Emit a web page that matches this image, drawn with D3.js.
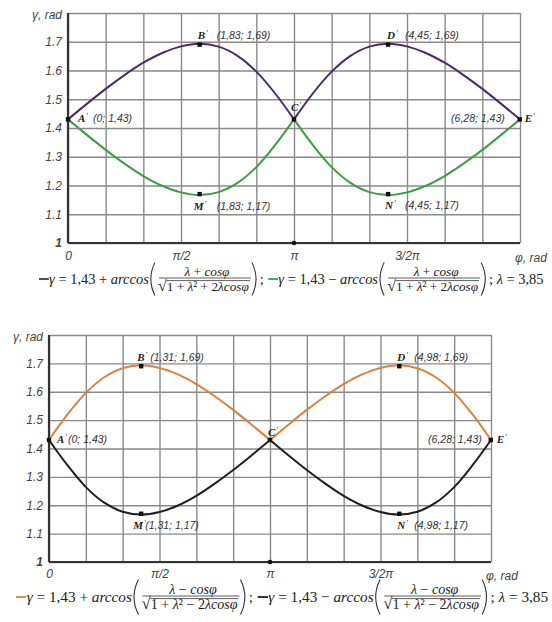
<!DOCTYPE html>
<html>
<head>
<meta charset="utf-8">
<script src="https://cdn.jsdelivr.net/npm/d3@7"></script>
<style>
  html, body { margin: 0; padding: 0; background: #ffffff; }
  svg { display: block; }
  text { white-space: pre; }
</style>
</head>
<body>
<svg id="chart" width="552" height="622"></svg>
<script>
// ---- data --------------------------------------------------------------
// sampling angles φ (rad), step π/12
const PHI = [0, 0.262, 0.524, 0.785, 1.047, 1.309, 1.571, 1.833, 2.094, 2.356, 2.618, 2.880, 3.142,
             3.403, 3.665, 3.927, 4.189, 4.451, 4.712, 4.974, 5.236, 5.498, 5.760, 6.021, 6.283];

// upper chart: λ + cosφ, λ = 3,85
const topUpper = [1.430, 1.484, 1.536, 1.584, 1.627, 1.661, 1.684, 1.693, 1.683, 1.651, 1.596, 1.520, 1.430,
                  1.520, 1.596, 1.651, 1.683, 1.693, 1.684, 1.661, 1.627, 1.584, 1.536, 1.484, 1.430];
const topLower = [1.430, 1.376, 1.324, 1.276, 1.233, 1.199, 1.176, 1.167, 1.177, 1.209, 1.264, 1.341, 1.430,
                  1.341, 1.264, 1.209, 1.177, 1.167, 1.176, 1.199, 1.233, 1.276, 1.324, 1.376, 1.430];

// lower chart: λ − cosφ, λ = 3,85
const botUpper = [1.430, 1.520, 1.596, 1.651, 1.683, 1.693, 1.684, 1.661, 1.627, 1.584, 1.536, 1.484, 1.430,
                  1.484, 1.536, 1.584, 1.627, 1.661, 1.684, 1.693, 1.683, 1.651, 1.596, 1.520, 1.430];
const botLower = [1.430, 1.341, 1.264, 1.209, 1.177, 1.167, 1.176, 1.199, 1.233, 1.276, 1.324, 1.376, 1.430,
                  1.376, 1.324, 1.276, 1.233, 1.199, 1.176, 1.167, 1.177, 1.209, 1.264, 1.341, 1.430];

// grid and ticks
const gridPhi = [0, 0.5236, 1.0472, 1.5708, 2.0944, 2.618, 3.1416, 3.6652, 4.1888, 4.7124, 5.236, 5.7596, 6.2832];
const gridGamma = [1.0, 1.1, 1.2, 1.3, 1.4, 1.5, 1.6, 1.7, 1.8];
const yTickValues = [1.0, 1.1, 1.2, 1.3, 1.4, 1.5, 1.6, 1.7];
const yTickLabels = ["1", "1.1", "1.2", "1.3", "1.4", "1.5", "1.6", "1.7"];
const xTickValues = [0, 1.5708, 3.1416, 4.7124];
const xTickLabels = ["0", "π/2", "π", "3/2π"];

// marked points
const pointNames = ["A", "B", "C", "D", "E", "M", "N"];
const showCoords = [true, true, false, true, true, true, true];
const topPointPhi = [0, 1.83, 3.1416, 4.45, 6.28, 1.83, 4.45];
const topPointGamma = [1.43, 1.69, 1.43, 1.69, 1.43, 1.17, 1.17];
const botPointPhi = [0, 1.31, 3.1416, 4.98, 6.28, 1.31, 4.98];
const botPointGamma = [1.43, 1.69, 1.43, 1.69, 1.43, 1.17, 1.17];

// ---- layout ------------------------------------------------------------
const svg = d3.select("#chart");
const LABEL_FONT = "'Liberation Sans', Arial, sans-serif";
const SERIF = "'Liberation Serif', 'Times New Roman', serif";

// label offsets relative to each point: name (nx, ny), coordinates (cx, cy)
const topLabelPos = [
  { nx: 10, ny: 3, cx: 25, cy: 3, anchor: "start" },
  { nx: -2, ny: -6, cx: 17, cy: -6, anchor: "start" },
  { nx: -3, ny: -8 },
  { nx: -1, ny: -6, cx: 17, cy: -6, anchor: "start" },
  { nx: 5, ny: 3, cx: -15, cy: 3, anchor: "end" },
  { nx: -6, ny: 16, cx: 17, cy: 16, anchor: "start" },
  { nx: -3, ny: 15, cx: 17, cy: 15, anchor: "start" }
];
const botLabelPos = [
  { nx: 8, ny: 3, cx: 19, cy: 3, anchor: "start" },
  { nx: -4, ny: -5, cx: 9, cy: -5, anchor: "start" },
  { nx: -2, ny: -4 },
  { nx: -2, ny: -5, cx: 15, cy: -5, anchor: "start" },
  { nx: 6, ny: 3, cx: -9, cy: 3, anchor: "end" },
  { nx: -8, ny: 15, cx: 4, cy: 15, anchor: "start" },
  { nx: -2, ny: 15, cx: 15, cy: 15, anchor: "start" }
];

const fmt = v => v === 0 ? "0" : v.toFixed(2).replace(".", ",");

function drawChart(cfg) {
  const g = svg.append("g");
  const x = d3.scaleLinear().domain([0, 6.2832]).range([cfg.x0, cfg.x1]);
  const y = d3.scaleLinear().domain([1.0, 1.8]).range([cfg.yBot, cfg.yTop]);
  const w = cfg.x1 - cfg.x0, h = cfg.yBot - cfg.yTop;

  // grid
  const gx = g.append("g").attr("transform", `translate(0,${cfg.yBot})`)
    .call(d3.axisBottom(x).tickValues(gridPhi).tickSize(-h).tickFormat(""));
  gx.select(".domain").remove();
  gx.selectAll(".tick line").attr("stroke", "#8a8a8a").attr("stroke-width", 1.4);
  const gy = g.append("g").attr("transform", `translate(${cfg.x0},0)`)
    .call(d3.axisLeft(y).tickValues(gridGamma).tickSize(-w).tickFormat(""));
  gy.select(".domain").remove();
  gy.selectAll(".tick line").attr("stroke", "#8a8a8a").attr("stroke-width", 1.4);

  // main axes
  g.append("line").attr("x1", cfg.x0).attr("x2", cfg.x0).attr("y1", cfg.yTop).attr("y2", cfg.yBot)
    .attr("stroke", "#333").attr("stroke-width", 2.2);
  g.append("line").attr("x1", cfg.x0).attr("x2", cfg.x1).attr("y1", cfg.yBot).attr("y2", cfg.yBot)
    .attr("stroke", "#333").attr("stroke-width", 2.2);

  // y tick labels
  const ya = g.append("g").attr("transform", `translate(${cfg.x0},0)`)
    .call(d3.axisLeft(y).tickValues(yTickValues).tickSize(0).tickPadding(6)
      .tickFormat((d, i) => yTickLabels[i]));
  ya.select(".domain").remove();
  ya.selectAll("text").attr("font-family", LABEL_FONT).attr("font-size", 12)
    .attr("font-style", "italic").attr("fill", "#444").attr("font-weight", (d, i) => i === 0 ? "bold" : "normal");

  // x tick labels
  const xa = g.append("g").attr("transform", `translate(0,${cfg.yBot})`)
    .call(d3.axisBottom(x).tickValues(xTickValues).tickSize(0).tickPadding(cfg.xPad)
      .tickFormat((d, i) => xTickLabels[i]));
  xa.select(".domain").remove();
  xa.selectAll("text").attr("font-family", LABEL_FONT).attr("font-size", 12)
    .attr("font-style", "italic").attr("fill", "#444");

  // axis titles
  g.append("text").attr("x", cfg.x1 - 5).attr("y", cfg.yBot + cfg.xPad + 11)
    .attr("font-family", LABEL_FONT).attr("font-size", 12).attr("font-style", "italic").attr("fill", "#444")
    .text("φ, rad");
  g.append("text").attr("x", cfg.x0 - 6).attr("y", cfg.yTop + 6).attr("text-anchor", "end")
    .attr("font-family", LABEL_FONT).attr("font-size", 12).attr("font-style", "italic").attr("fill", "#444")
    .text("γ, rad");

  // curves, drawn in two halves so the cusps stay sharp
  const line = d3.line().x(d => x(d[0])).y(d => y(d[1])).curve(d3.curveCatmullRom.alpha(0.5));
  cfg.series.forEach(s => {
    const pts = PHI.map((p, i) => [p, s.values[i]]);
    [pts.slice(0, 13), pts.slice(12)].forEach(part => {
      g.append("path").attr("d", line(part)).attr("fill", "none")
        .attr("stroke", s.color).attr("stroke-width", 2).attr("stroke-linejoin", "round");
    });
  });

  // marker on the axis at π
  g.append("circle").attr("cx", x(3.1416)).attr("cy", y(1.0)).attr("r", 2.3).attr("fill", "#111");

  // marked points with labels
  cfg.pPhi.forEach((p, i) => {
    const px = x(p), py = y(cfg.pGamma[i]);
    const L = cfg.labels[i];
    g.append("rect").attr("x", px - 2.2).attr("y", py - 2.2).attr("width", 4.4).attr("height", 4.4)
      .attr("fill", "#111");
    const nm = g.append("text").attr("x", px + L.nx).attr("y", py + L.ny)
      .attr("font-family", SERIF).attr("font-size", 11).attr("font-style", "italic")
      .attr("font-weight", "bold").attr("fill", "#222");
    nm.append("tspan").text(pointNames[i]);
    nm.append("tspan").attr("dx", 1.5).attr("dy", -3).attr("font-size", 8).attr("font-style", "normal")
      .attr("font-weight", "normal").text("'");
    if (showCoords[i]) {
      g.append("text").attr("x", px + L.cx).attr("y", py + L.cy).attr("text-anchor", L.anchor)
        .attr("font-family", LABEL_FONT).attr("font-size", 10.5).attr("font-style", "italic")
        .attr("fill", "#333")
        .text(`(${fmt(p)}; ${fmt(cfg.pGamma[i])})`);
    }
  });
}

// formula legend laid out left to right
function drawFormula(startX, midY, targetW, sgn, entries) {
  const g = svg.append("g");
  function paren(cx, cy, s, right) {
    const hh = s * 1.15, ww = s * 0.36;
    const d = right
      ? `M${cx},${cy - hh} Q${cx + ww * 1.6},${cy} ${cx},${cy + hh}`
      : `M${cx + ww},${cy - hh} Q${cx - ww * 0.6},${cy} ${cx + ww},${cy + hh}`;
    g.append("path").attr("d", d).attr("fill", "none").attr("stroke", "#333").attr("stroke-width", 1.1);
  }
  function txt(xp, yp, fs, parts) {
    const t = g.append("text").attr("x", xp).attr("y", yp).attr("font-family", SERIF)
      .attr("font-size", fs).attr("fill", "#222");
    parts.forEach(([s, it]) => t.append("tspan").attr("font-style", it ? "italic" : "normal").text(s));
    return t;
  }
  function layout(fs) {
    g.selectAll("*").remove();
    const sm = fs * 0.92;
    const bar = midY - 1;
    let cx = startX;
    entries.forEach((e, i) => {
      if (i > 0) cx += txt(cx, midY + fs * 0.33, fs, [[";", false]]).node().getComputedTextLength() + fs * 0.3;
      g.append("line").attr("x1", cx).attr("x2", cx + fs * 0.68).attr("y1", midY).attr("y2", midY)
        .attr("stroke", e.color).attr("stroke-width", 1.8);
      cx += fs * 0.7;
      const t = txt(cx, midY + fs * 0.33, fs, [["γ", true], [` = 1,43 ${e.op} `, false], ["arccos", true]]);
      cx += t.node().getComputedTextLength() + 1;
      paren(cx, midY, fs, false);
      cx += fs * 0.5;
      // fraction
      const sq = txt(cx + 1, bar + sm * 0.95, sm * 1.2, [["√", false]]);
      const sqW = sq.node().getComputedTextLength();
      const rad = txt(cx + 1 + sqW, bar + sm * 0.95, sm,
        [["1 + ", false], ["λ", true], ["² " + sgn + " 2", false], ["λcosφ", true]]);
      const radW = rad.node().getComputedTextLength();
      const fw = sqW + radW + 3;
      g.append("line").attr("x1", cx + 1 + sqW - 0.5).attr("x2", cx + 2 + sqW + radW)
        .attr("y1", bar + 2.6).attr("y2", bar + 2.6).attr("stroke", "#333").attr("stroke-width", 0.8);
      g.append("line").attr("x1", cx + 2).attr("x2", cx + fw).attr("y1", bar).attr("y2", bar)
        .attr("stroke", "#333").attr("stroke-width", 0.8);
      txt(cx + fw / 2 + 3, bar - 2.5, sm, [["λ", true], [` ${sgn} `, false], ["cosφ", true]])
        .attr("text-anchor", "middle");
      cx += fw + 1;
      paren(cx, midY, fs, true);
      cx += fs * 0.55;
    });
    cx += txt(cx, midY + fs * 0.33, fs, [["; ", false], ["λ", true], [" = 3,85", false]])
      .node().getComputedTextLength();
    return cx - startX;
  }
  const w0 = layout(12);
  layout(12 * targetW / w0);
}

drawChart({
  x0: 68, x1: 520, yTop: 13, yBot: 243, xPad: 8,
  series: [{ values: topUpper, color: "#4b2b62" }, { values: topLower, color: "#3d9c46" }],
  pPhi: topPointPhi, pGamma: topPointGamma, labels: topLabelPos
});
drawChart({
  x0: 49, x1: 491, yTop: 335, yBot: 562, xPad: 7,
  series: [{ values: botUpper, color: "#d9813e" }, { values: botLower, color: "#1f1f1f" }],
  pPhi: botPointPhi, pGamma: botPointGamma, labels: botLabelPos
});

drawFormula(39, 279, 507, "+", [{ color: "#4b2b62", op: "+" }, { color: "#3d9c46", op: "−" }]);
drawFormula(16, 597, 535, "−", [{ color: "#d9813e", op: "+" }, { color: "#1f1f1f", op: "−" }]);
</script>
</body>
</html>
